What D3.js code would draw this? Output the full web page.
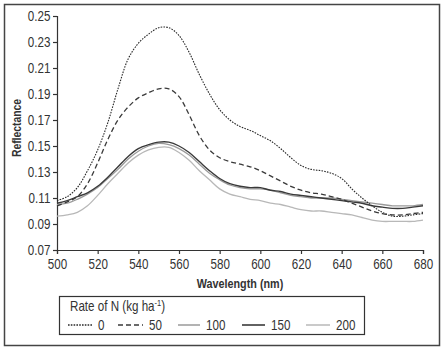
<html>
<head><script src="https://d3js.org/d3.v7.min.js"></script></head>
<style>
    body { margin: 0; background: white; }
    text { font-family: "Liberation Sans", Arial, sans-serif; fill: #333; }
</style>
<body>
<svg id="chart" width="446" height="351"></svg>
<script>
// wavelengths (nm) and reflectance for each N rate
const wavelengths = [500,505,510,515,520,525,530,535,540,545,550,555,560,565,570,575,580,585,590,595,600,
                     605,610,615,620,625,630,635,640,645,650,655,660,665,670,675,680]
const n0   = [0.108,0.111,0.118,0.131,0.147,0.168,0.194,0.217,0.229,0.236,0.241,0.241,0.235,0.222,0.205,0.190,0.178,0.170,0.165,0.162,0.158,
              0.154,0.148,0.141,0.135,0.132,0.131,0.129,0.125,0.117,0.110,0.104,0.099,0.096,0.096,0.097,0.098]
const n50  = [0.104,0.107,0.111,0.121,0.137,0.155,0.170,0.180,0.187,0.191,0.194,0.194,0.188,0.174,0.158,0.147,0.141,0.138,0.136,0.134,0.131,
              0.127,0.123,0.119,0.116,0.114,0.113,0.111,0.109,0.106,0.103,0.100,0.098,0.097,0.097,0.098,0.099]
const n100 = [0.105,0.106,0.109,0.113,0.118,0.125,0.132,0.140,0.146,0.150,0.152,0.151,0.148,0.143,0.136,0.129,0.124,0.120,0.118,0.117,0.117,
              0.116,0.114,0.112,0.111,0.110,0.110,0.110,0.109,0.108,0.107,0.106,0.105,0.104,0.104,0.104,0.105]
const n150 = [0.106,0.108,0.111,0.114,0.119,0.126,0.134,0.142,0.148,0.151,0.153,0.153,0.150,0.145,0.138,0.131,0.125,0.121,0.119,0.118,0.118,
              0.116,0.115,0.113,0.112,0.111,0.110,0.109,0.108,0.107,0.106,0.104,0.103,0.102,0.102,0.103,0.104]
const n200 = [0.096,0.097,0.099,0.104,0.112,0.121,0.129,0.137,0.143,0.147,0.149,0.149,0.145,0.139,0.131,0.124,0.117,0.113,0.111,0.109,0.108,
              0.106,0.105,0.103,0.101,0.100,0.100,0.099,0.098,0.097,0.095,0.093,0.092,0.092,0.092,0.092,0.093]
const rateLabels = ["0", "50", "100", "150", "200"]
const xTicks = [500,520,540,560,580,600,620,640,660,680]
const yTicks = [0.07,0.09,0.11,0.13,0.15,0.17,0.19,0.21,0.23,0.25]

const series = [n0, n50, n100, n150, n200]
const styles = [
    {color: "#2a2a2a", width: 1.1, dash: "1.6,1.2"},
    {color: "#3a3a3a", width: 1.3, dash: "5,3"},
    {color: "#9a9a9a", width: 1.3, dash: null},
    {color: "#3a3a3a", width: 1.4, dash: null},
    {color: "#b8b8b8", width: 1.3, dash: null}
]
const narrow = 0.83   // the figure uses a condensed face, squeeze the text horizontally

const svg = d3.select("svg#chart")
const margin = {top: 16, right: 23, bottom: 101, left: 57}
const width = +svg.attr("width")
const height = +svg.attr("height")

function narrowText(parent, x, y, size, str, anchor) {
    return parent.append("text")
        .attr("transform", `translate(${x},${y}) scale(${narrow},1)`)
        .attr("font-size", size)
        .attr("text-anchor", anchor || "start")
        .text(str)
}

// outer frame
svg.append("rect").attr("x", 4.5).attr("y", 4.5).attr("width", 435).attr("height", 341)
    .attr("fill", "none").attr("stroke", "#444").attr("stroke-width", 1.5)

let xScale = d3.scaleLinear().domain([500, 680]).range([margin.left, width - margin.right])
let yScale = d3.scaleLinear().domain([0.07, 0.25]).range([height - margin.bottom, margin.top])

svg.append("g").attr("transform", `translate(0,${yScale(0.07)})`)
    .call(d3.axisBottom(xScale).tickValues(xTicks).tickSizeOuter(0).tickSize(4).tickPadding(5))
svg.append("g").attr("transform", `translate(${xScale(500)},0)`)
    .call(d3.axisLeft(yScale).tickValues(yTicks).tickFormat(d3.format(".2f")).tickSizeOuter(0).tickSize(4).tickPadding(4))
svg.selectAll(".domain, .tick line").attr("stroke", "#333").attr("stroke-width", 1.2)
svg.selectAll(".tick text").attr("font-size", 14).attr("font-family", null).attr("fill", "#333")
    .attr("transform", `scale(${narrow},1)`)

narrowText(svg, 240, 288, 13, "Wavelength (nm)", "middle").attr("font-weight", "bold").attr("fill", "#222")
svg.append("text").attr("transform", `translate(21,128) rotate(-90) scale(${narrow},1)`).attr("text-anchor", "middle")
    .attr("font-size", 12.5).attr("font-weight", "bold").attr("fill", "#222").text("Reflectance")

const line = d3.line()
    .x((d, i) => xScale(wavelengths[i]))
    .y(d => yScale(d))
    .curve(d3.curveCatmullRom.alpha(0.5))

// draw light lines first so the darker ones sit on top
const order = [4, 2, 3, 1, 0]
svg.append("g").selectAll("path").data(order).join("path")
    .attr("d", k => line(series[k]))
    .attr("fill", "none")
    .attr("stroke", k => styles[k].color)
    .attr("stroke-width", k => styles[k].width)
    .attr("stroke-dasharray", k => styles[k].dash)

// legend
const legend = svg.append("g")
legend.append("rect").attr("x", 59.5).attr("y", 296.5).attr("width", 305).attr("height", 38)
    .attr("fill", "white").attr("stroke", "#333").attr("stroke-width", 1.2)
const title = narrowText(legend, 70, 311, 14, null)
title.append("tspan").text("Rate of N (kg ha")
title.append("tspan").attr("dy", -5).attr("font-size", 9).text("-1")
title.append("tspan").attr("dy", 5).text(")")
const legendX = [68, 118, 178, 242, 306]
const legendLen = [24, 25, 22, 23, 24]
rateLabels.forEach((lab, k) => {
    legend.append("line").attr("x1", legendX[k]).attr("x2", legendX[k] + legendLen[k])
        .attr("y1", 325).attr("y2", 325)
        .attr("stroke", styles[k].color).attr("stroke-width", styles[k].width + 0.2)
        .attr("stroke-dasharray", styles[k].dash)
    narrowText(legend, legendX[k] + legendLen[k] + 6, 330, 14, lab)
})
</script>
</body>
</html>
